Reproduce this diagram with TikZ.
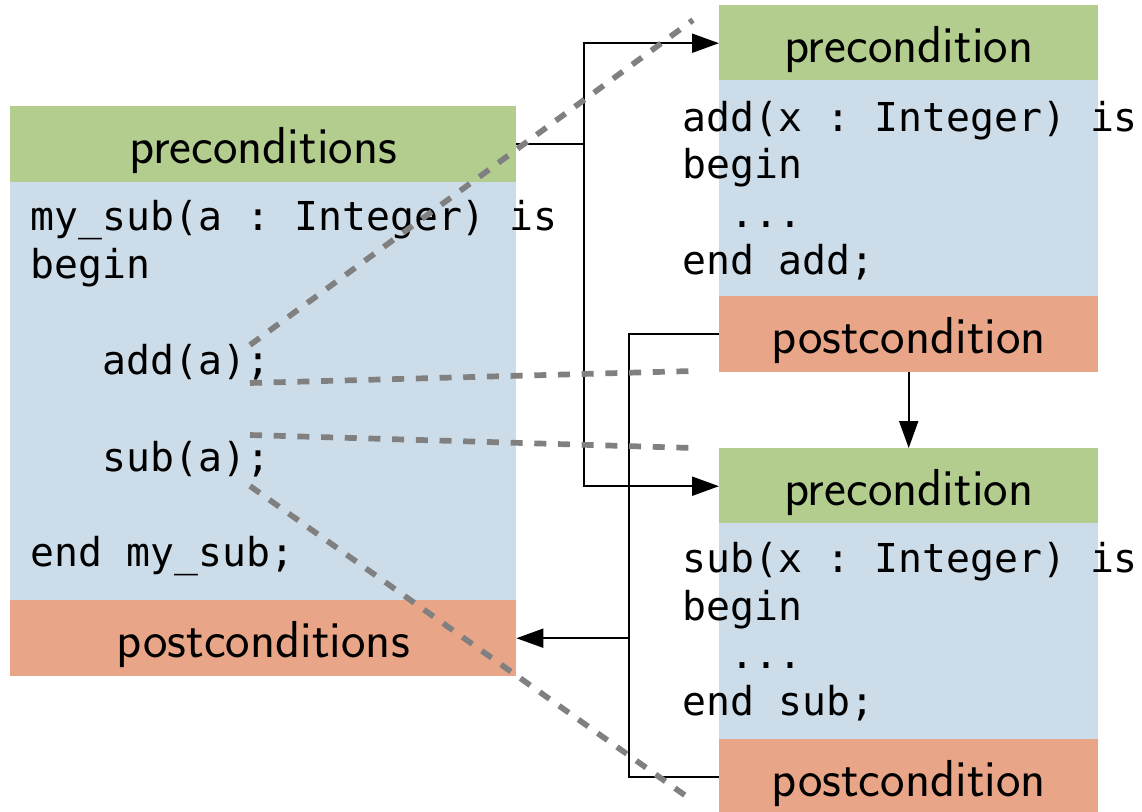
\documentclass[tikz,border=0pt]{standalone}
\usepackage{fontspec}
\setmonofont{DejaVu Sans Mono}
\usetikzlibrary{arrows.meta}

\definecolor{pregreen}{RGB}{179,205,142}
\definecolor{bodyblue}{RGB}{204,220,232}
\definecolor{postorange}{RGB}{233,165,135}

\tikzset{
  band/.style={anchor=north west, inner sep=0pt, minimum height=76pt,
    text height=38pt, text depth=0pt,
    font=\sffamily\fontsize{52}{60}\selectfont},
  prebox/.style={band, fill=pregreen},
  postbox/.style={band, fill=postorange},
  bodybox/.style={anchor=north west, inner sep=0pt, fill=bodyblue},
  code/.style={anchor=base west, inner sep=0pt,
    font=\ttfamily\fontsize{39.8}{48}\selectfont},
  conn/.style={line width=2pt},
  tip/.style={-{Triangle[length=27pt,width=19pt]}},
  zoomline/.style={line width=5.7pt, gray, dash pattern=on 12pt off 11.7pt}
}

\begin{document}
\begin{tikzpicture}[x=1pt,y=-1pt]
  \clip (0,0) rectangle (1142,811);
  \fill[white] (0,0) rectangle (1142,811);

  % caller: my_sub
  \node[prebox, minimum width=506pt] (Lpre) at (10,106) {preconditions};
  \node[bodybox, minimum width=506pt, minimum height=418pt] (Lbody) at (10,182) {};
  \node[postbox, minimum width=506pt] (Lpost) at (10,600) {postconditions};
  \node[code] (l1) at (30.5,230) {my\_sub(a : Integer) is};
  \node[code] (l2) at (30.5,278) {begin};
  \node[code] (l3) at (30.5,374) {\ \ \ add(a);};
  \node[code] (l4) at (30.5,471) {\ \ \ sub(a);};
  \node[code] (l5) at (30.5,566) {end my\_sub;};

  % callee: add
  \node[prebox, minimum width=379pt] (Apre) at (719,5) {precondition};
  \node[bodybox, minimum width=379pt, minimum height=216pt] (Abody) at (719,80) {};
  \node[postbox, minimum width=379pt] (Apost) at (719,296) {postcondition};
  \node[code] (a1) at (682.5,131) {add(x : Integer) is};
  \node[code] (a2) at (682.5,178) {begin};
  \node[code] (a3) at (682.5,227) {\ \ ...};
  \node[code] (a4) at (682.5,274) {end add;};

  % callee: sub
  \node[prebox, minimum width=379pt] (Spre) at (719,448) {precondition};
  \node[bodybox, minimum width=379pt, minimum height=216pt] (Sbody) at (719,523) {};
  \node[postbox, minimum width=379pt] (Spost) at (719,739) {postcondition};
  \node[code] (s1) at (682.5,572) {sub(x : Integer) is};
  \node[code] (s2) at (682.5,620) {begin};
  \node[code] (s3) at (682.5,668) {\ \ ...};
  \node[code] (s4) at (682.5,715) {end sub;};

  % precondition flow
  \draw[conn] (Lpre.east) -- ++(68,0) coordinate (split);
  \draw[conn,tip] (split) |- (Apre.west);
  \draw[conn,tip] (split) |- (Spre.west);

  % postcondition flow
  \draw[conn] (Apost.west) -- ++(-90,0) coordinate (join) |- (Spost.west);
  \draw[conn,tip] (join |- Lpost.east) -- (Lpost.east);
  \draw[conn,tip] (Apost.south) -- (Spre.north);

  % call sites expanded into callees
  \coordinate (addTop) at (250,345);
  \coordinate (addBot) at (250,383);
  \coordinate (subTop) at (250,435);
  \coordinate (subBot) at (250,486);
  \coordinate (addTopEnd) at (693,20);
  \coordinate (addBotEnd) at (693,371);
  \coordinate (subTopEnd) at (693,448);
  \coordinate (subBotEnd) at (693,801);
  \draw[zoomline] (addTop) -- (addTopEnd);
  \draw[zoomline] (addBot) -- (addBotEnd);
  \draw[zoomline] (subTop) -- (subTopEnd);
  \draw[zoomline] (subBot) -- (subBotEnd);
\end{tikzpicture}
\end{document}
